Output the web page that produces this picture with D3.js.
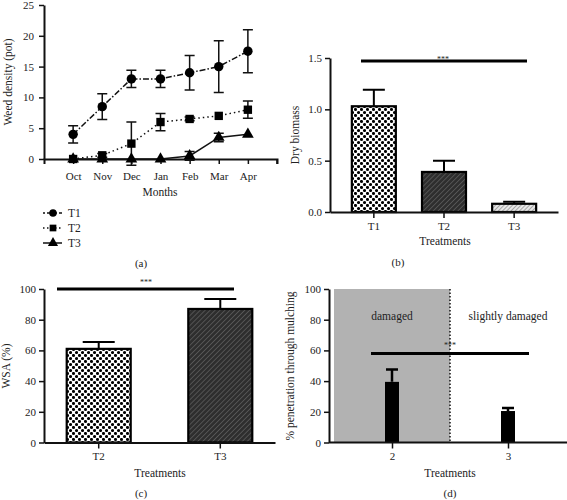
<!DOCTYPE html>
<html><head><meta charset="utf-8">
<script src="https://cdn.jsdelivr.net/npm/d3@7"></script>
<style>body{margin:0;background:#fff}svg{display:block}text{font-family:"Liberation Serif","Times New Roman",serif;fill:#222}</style>
</head><body><svg id="c" width="567" height="500"></svg>
<script>
// Panel (a) data
const months = ["Oct","Nov","Dec","Jan","Feb","Mar","Apr"];
const t1 = [4, 8.5, 13, 13, 14, 15, 17.5];
const t1Err = [1.4, 2.1, 1.4, 1.4, 2.8, 4.2, 3.5];
const t2 = [0, 0.6, 2.5, 6, 6.5, 7, 8];
const t2Err = [0, 0.3, 3.5, 1.4, 0.3, 0, 1.4];
const t3 = [0, 0, 0, 0, 0.5, 3.5, 4];
const t3Err = [0, 0, 0, 0, 0.7, 0.7, 0];
const aTicks = [0, 5, 10, 15, 20, 25];
// Panel (b)
const bCats = ["T1","T2","T3"];
const bVals = [1.03, 0.39, 0.08];
const bErr = [0.16, 0.11, 0.02];
const bTicks = [0.0, 0.5, 1.0, 1.5];
// Panel (c)
const cCats = ["T2","T3"];
const cVals = [61, 87];
const cErr = [4.5, 6.5];
const cTicks = [0, 20, 40, 60, 80, 100];
// Panel (d)
const dCats = ["2","3"];
const dVals = [39.5, 20.5];
const dErr = [8, 2];
const dTicks = [0, 20, 40, 60, 80, 100];

const svg = d3.select("#c");
const defs = svg.append("defs");
// dots pattern
const pd = defs.append("pattern").attr("id","dots").attr("width",6).attr("height",6).attr("patternUnits","userSpaceOnUse");
pd.append("rect").attr("width",6).attr("height",6).attr("fill","#fff");
pd.append("circle").attr("cx",1.5).attr("cy",1.5).attr("r",1.55).attr("fill","#000");
pd.append("circle").attr("cx",4.5).attr("cy",4.5).attr("r",1.55).attr("fill","#000");
// dark hatch
const ph = defs.append("pattern").attr("id","hatch").attr("width",3.5).attr("height",3.5).attr("patternUnits","userSpaceOnUse").attr("patternTransform","rotate(45)");
ph.append("rect").attr("width",3.5).attr("height",3.5).attr("fill","#2e2e2e");
ph.append("line").attr("x1",0).attr("y1",0).attr("x2",0).attr("y2",3.5).attr("stroke","#6a6a6a").attr("stroke-width",1.2);
// light hatch
const pl = defs.append("pattern").attr("id","lhatch").attr("width",3).attr("height",3).attr("patternUnits","userSpaceOnUse").attr("patternTransform","rotate(45)");
pl.append("rect").attr("width",3).attr("height",3).attr("fill","#e8e8e8");
pl.append("line").attr("x1",0).attr("y1",0).attr("x2",0).attr("y2",3).attr("stroke","#777").attr("stroke-width",1.2);

function styleAxis(g){
  g.selectAll(".domain").attr("stroke","#111").attr("stroke-width",2);
  g.selectAll(".tick line").attr("stroke","#111").attr("stroke-width",1.5);
  g.selectAll(".tick text").attr("font-family","Liberation Serif, serif").attr("font-size",11).attr("fill","#222");
}
function txt(x,y,s,size,anchor,rot){
  const t = svg.append("text").attr("x",x).attr("y",y).attr("font-size",size).attr("text-anchor",anchor||"middle").text(s);
  if(rot) t.attr("transform",`rotate(-90,${x},${y})`);
  return t;
}

// ---------- Panel (a)
{
  const x = d3.scalePoint().domain(months).range([44,277]).padding(1);
  const y = d3.scaleLinear().domain([0,25]).range([159,5]);
  const gx = svg.append("g").attr("transform","translate(0,159)").call(d3.axisBottom(x).tickSizeOuter(0).tickSize(5).tickPadding(8));
  gx.append("line").attr("x1",277).attr("x2",277).attr("y1",0).attr("y2",5).attr("stroke","#111").attr("stroke-width",1.5);
  styleAxis(gx);
  const gy = svg.append("g").attr("transform","translate(44,0)").call(d3.axisLeft(y).tickValues(aTicks).tickSize(5).tickSizeOuter(0).tickPadding(5));
  styleAxis(gy);
  txt(160,196,"Months",11.5);
  txt(12,82,"Weed density (pot)",11.5,"middle",true);
  const series = [
    {v:t1,e:t1Err,dash:"6,2,1.5,2",shape:d3.symbolCircle,name:"T1"},
    {v:t2,e:t2Err,dash:"1.5,3",shape:d3.symbolSquare,name:"T2"},
    {v:t3,e:t3Err,dash:null,shape:d3.symbolTriangle,name:"T3"}
  ];
  const line = d3.line().x((d,i)=>x(months[i])).y(d=>y(d));
  series.forEach(s=>{
    const p = svg.append("path").attr("d",line(s.v)).attr("fill","none").attr("stroke","#111").attr("stroke-width",1.5);
    if(s.dash) p.attr("stroke-dasharray",s.dash);
    s.v.forEach((v,i)=>{
      if(s.e[i]>0){
        const cx=x(months[i]);
        svg.append("path").attr("d",`M${cx},${y(v-s.e[i])}V${y(v+s.e[i])}M${cx-5},${y(v-s.e[i])}H${cx+5}M${cx-5},${y(v+s.e[i])}H${cx+5}`).attr("stroke","#111").attr("stroke-width",1.5).attr("fill","none");
      }
    });
    svg.append("g").selectAll("path").data(s.v).join("path")
      .attr("d",d3.symbol().type(s.shape).size(s.name==="T3"?60:70))
      .attr("transform",(d,i)=>`translate(${x(months[i])},${y(d)})`).attr("fill","#000");
  });
  // legend
  series.forEach((s,i)=>{
    const ly = 213+i*15;
    const p = svg.append("line").attr("x1",43).attr("x2",62).attr("y1",ly).attr("y2",ly).attr("stroke","#111").attr("stroke-width",1.5);
    if(s.dash) p.attr("stroke-dasharray",s.name==="T1"?"2,2,6,2":"1.5,2.5");
    svg.append("path").attr("d",d3.symbol().type(s.shape).size(45)).attr("transform",`translate(53,${ly})`).attr("fill","#000");
    txt(68,ly+4,s.name,11.5,"start");
  });
  txt(141,267,"(a)",11);
}

// ---------- Panel (b)
{
  const x = d3.scaleBand().domain(bCats).range([330,558]).paddingInner(0.35).paddingOuter(0.3);
  const y = d3.scaleLinear().domain([0,1.5]).range([212,58]);
  svg.append("g").selectAll("rect").data(bVals).join("rect")
    .attr("x",(d,i)=>x(bCats[i])+x.bandwidth()/2-22).attr("width",44)
    .attr("y",d=>y(d)).attr("height",d=>y(0)-y(d))
    .attr("fill",(d,i)=>["url(#dots)","url(#hatch)","url(#lhatch)"][i]).attr("stroke","#000").attr("stroke-width",2.2);
  bVals.forEach((v,i)=>{
    const cx=x(bCats[i])+x.bandwidth()/2;
    svg.append("path").attr("d",`M${cx},${y(v)}V${y(v+bErr[i])}M${cx-11},${y(v+bErr[i])}H${cx+11}`).attr("stroke","#000").attr("stroke-width",2);
  });
  const gx = svg.append("g").attr("transform","translate(0,212)").call(d3.axisBottom(x).tickSize(6).tickSizeOuter(0).tickPadding(4));
  styleAxis(gx);
  const gy = svg.append("g").attr("transform","translate(330,0)").call(d3.axisLeft(y).tickValues(bTicks).tickFormat(d3.format(".1f")).tickSize(5).tickSizeOuter(0));
  styleAxis(gy);
  svg.append("line").attr("x1",361).attr("x2",527).attr("y1",y(1.47)).attr("y2",y(1.47)).attr("stroke","#000").attr("stroke-width",3);
  txt(443,62,"***",8);
  txt(445,245,"Treatments",11.5);
  txt(299,135,"Dry biomass",11.5,"middle",true);
  txt(398,266,"(b)",11);
}

// ---------- Panel (c)
{
  const x = d3.scaleBand().domain(cCats).range([44,275]).paddingInner(0.5).paddingOuter(0.2);
  const y = d3.scaleLinear().domain([0,100]).range([442.5,289]);
  svg.append("g").selectAll("rect").data(cVals).join("rect")
    .attr("x",(d,i)=>x(cCats[i])+x.bandwidth()/2-32).attr("width",64)
    .attr("y",d=>y(d)).attr("height",d=>y(0)-y(d))
    .attr("fill",(d,i)=>["url(#dots)","url(#hatch)"][i]).attr("stroke","#000").attr("stroke-width",2.2);
  cVals.forEach((v,i)=>{
    const cx=x(cCats[i])+x.bandwidth()/2;
    svg.append("path").attr("d",`M${cx},${y(v)}V${y(v+cErr[i])}M${cx-16},${y(v+cErr[i])}H${cx+16}`).attr("stroke","#000").attr("stroke-width",2);
  });
  const gx = svg.append("g").attr("transform","translate(0,442.5)").call(d3.axisBottom(x).tickSize(6).tickSizeOuter(0).tickPadding(4));
  styleAxis(gx);
  const gy = svg.append("g").attr("transform","translate(44,0)").call(d3.axisLeft(y).tickValues(cTicks).tickSize(5).tickSizeOuter(0));
  styleAxis(gy);
  svg.append("line").attr("x1",57).attr("x2",234).attr("y1",y(100)).attr("y2",y(100)).attr("stroke","#000").attr("stroke-width",3);
  txt(146,285,"***",8);
  txt(160,477,"Treatments",11.5);
  txt(10,366,"WSA (%)",11.5,"middle",true);
  txt(141,497,"(c)",11);
}

// ---------- Panel (d)
{
  const x = d3.scalePoint().domain(dCats).range([334,566]).padding(0.5);
  const y = d3.scaleLinear().domain([0,100]).range([442.5,289]);
  const mid = 450;
  svg.append("rect").attr("x",334).attr("y",y(100)).attr("width",mid-334).attr("height",y(0)-y(100)).attr("fill","#b2b2b2");
  svg.append("line").attr("x1",mid).attr("x2",mid).attr("y1",y(100)).attr("y2",y(0)).attr("stroke","#111").attr("stroke-width",1.5).attr("stroke-dasharray","1.5,2");
  svg.append("g").selectAll("rect").data(dVals).join("rect")
    .attr("x",(d,i)=>x(dCats[i])-7).attr("width",14)
    .attr("y",d=>y(d)).attr("height",d=>y(0)-y(d)).attr("fill","#000");
  dVals.forEach((v,i)=>{
    const cx=x(dCats[i]);
    svg.append("path").attr("d",`M${cx},${y(v)}V${y(v+dErr[i])}M${cx-6},${y(v+dErr[i])}H${cx+6}`).attr("stroke","#000").attr("stroke-width",2.5);
  });
  const gx = svg.append("g").attr("transform","translate(0,442.5)").call(d3.axisBottom(x).tickSize(6).tickSizeOuter(0).tickPadding(4));
  gx.select(".domain").attr("d","M329,0H567");
  styleAxis(gx);
  const gy = svg.append("g").attr("transform","translate(329,0)").call(d3.axisLeft(y).tickValues(dTicks).tickSize(5).tickSizeOuter(0));
  styleAxis(gy);
  svg.append("line").attr("x1",371).attr("x2",529).attr("y1",y(58)).attr("y2",y(58)).attr("stroke","#000").attr("stroke-width",3);
  txt(450,348,"***",8);
  txt(392,320,"damaged",11.5);
  txt(508,320,"slightly damaged",11.5);
  txt(450,477,"Treatments",11.5);
  txt(294,366,"% penetration through mulching",11.5,"middle",true);
  txt(450,497,"(d)",11);
}
</script></body></html>
